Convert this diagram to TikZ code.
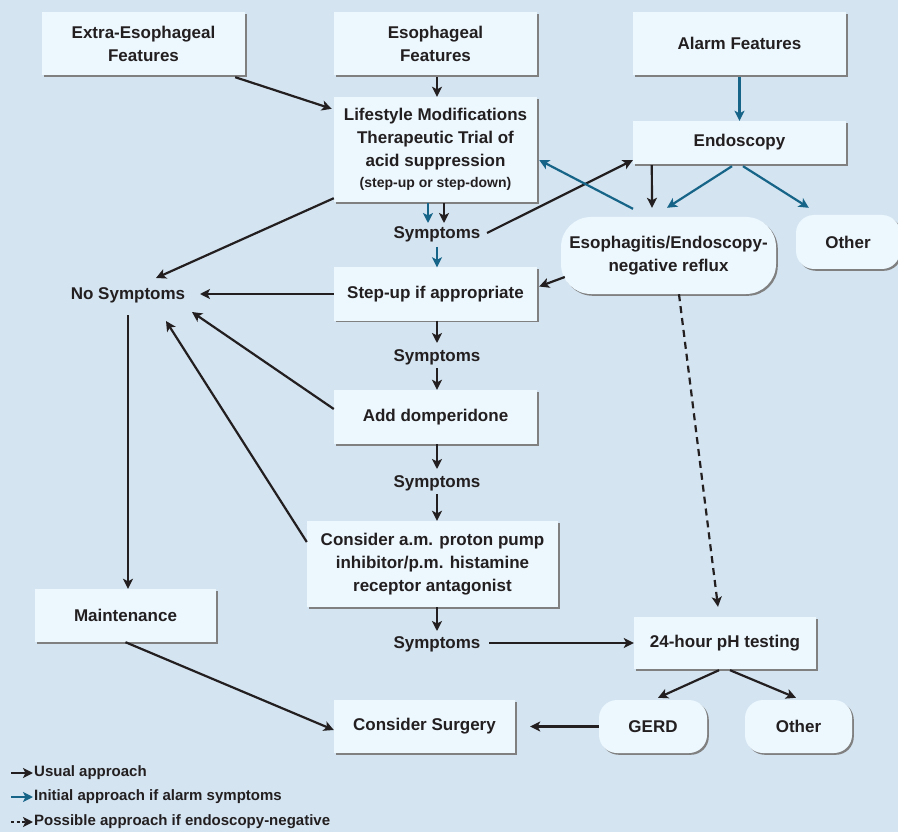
\documentclass[tikz,border=0pt]{standalone}
\usepackage{fontspec}
\setmainfont{Liberation Sans}
\usetikzlibrary{arrows.meta,calc,shadows}

\definecolor{pagebg}{RGB}{212,228,241}
\definecolor{boxfill}{RGB}{236,247,254}
\definecolor{shadowgray}{RGB}{128,128,128}
\definecolor{ink}{RGB}{35,31,32}
\definecolor{alarmblue}{RGB}{22,100,135}

\newcommand\chartfont{\fontsize{17}{23}\selectfont\bfseries}
\newcommand\legendfont{\fontsize{15}{18}\selectfont\bfseries}
\newcommand\smallnote{\fontsize{14}{18}\selectfont}

\tikzset{
  box/.style={fill=boxfill, align=center, inner sep=0pt, font=\chartfont, text=ink,
    drop shadow={shadow xshift=1.8pt, shadow yshift=-1.8pt, fill=shadowgray, opacity=1}},
  roundbox/.style={box, rounded corners=18pt},
  plaintext/.style={inner sep=1pt, font=\chartfont, text=ink},
  legendtext/.style={inner sep=1pt, font=\legendfont, text=ink, anchor=west},
  usual/.style={draw=ink, line width=2.2pt, -{Stealth[length=10pt,width=10pt,inset=2.5pt]}},
  alarmpath/.style={usual, draw=alarmblue},
  possible/.style={usual, dash pattern=on 7pt off 5pt}
}

\begin{document}
\begin{tikzpicture}[x=1pt,y=1pt]
\useasboundingbox (0,0) rectangle (898,-832);
\fill[pagebg] (0,0) rectangle (898,-832);

\node[box, minimum width=203pt, minimum height=63pt] (extra) at (143.5,-43.5) {Extra-Esophageal\\Features};
\node[box, minimum width=203pt, minimum height=63pt] (esoph) at (435.5,-43.5) {Esophageal\\Features};
\node[box, minimum width=213pt, minimum height=63pt] (alarm) at (739.5,-43.5) {Alarm Features};
\node[box, minimum width=203pt, minimum height=105pt] (life) at (435.5,-149.5) {Lifestyle Modifications\\Therapeutic Trial of\\acid suppression\\[-2pt]{\smallnote(step-up or step-down)}};
\node[box, minimum width=213pt, minimum height=43pt] (endo) at (739.5,-142.5) {Endoscopy};
\node[roundbox, rounded corners=30pt, minimum width=215pt, minimum height=77pt] (reflux) at (668.5,-255.5) {Esophagitis/Endoscopy-\\negative reflux};
\node[roundbox, minimum width=104pt, minimum height=54pt] (otherA) at (848,-242) {Other};
\node[plaintext] (sym1) at (437,-234) {Symptoms};
\node[box, minimum width=203pt, minimum height=53pt] (stepup) at (435.5,-294) {Step-up if appropriate};
\node[plaintext] (nosym) at (128,-295) {No Symptoms};
\node[plaintext] (sym2) at (437,-357) {Symptoms};
\node[box, minimum width=203pt, minimum height=54pt] (dompe) at (435.5,-417) {Add domperidone};
\node[plaintext] (sym3) at (437,-483) {Symptoms};
\node[box, minimum width=251pt, minimum height=86pt] (consider) at (432.5,-564) {Consider a.m. proton pump\\inhibitor/p.m. histamine\\receptor antagonist};
\node[plaintext] (sym4) at (437,-644) {Symptoms};
\node[box, minimum width=181pt, minimum height=53pt] (maint) at (125.5,-615.5) {Maintenance};
\node[box, minimum width=181pt, minimum height=53pt] (surgery) at (424.5,-726.5) {Consider Surgery};
\node[box, minimum width=182pt, minimum height=52pt] (ph) at (725,-643) {24-hour pH testing};
\node[roundbox, minimum width=108pt, minimum height=53pt] (gerd) at (653,-726.5) {GERD};
\node[roundbox, minimum width=107pt, minimum height=53pt] (otherB) at (798.5,-726.5) {Other};

% top part
\draw[usual] ($(extra.south east)+(-10,-2)$) -- ($(life.north west)+(-2,-12)$);
\draw[usual] ($(esoph.south)+(1.5,-2)$) -- ($(life.north)+(1.5,0)$);
\draw[alarmpath] ($(alarm.south)+(0,-2)$) -- (endo.north);
\draw[usual] ($(life.south west)+(0,4)$) -- ($(nosym)+(28,17)$);
\draw[alarmpath] ($(life.south)+(-7.5,-1)$) -- ($(sym1)+(-9,11)$);
\draw[usual] ($(life.south)+(8.5,-1)$) -- ($(sym1)+(7,11)$);
\draw[alarmpath] ($(sym1)+(0,-13)$) -- (sym1 |- stepup.north);
\draw[usual] ($(sym1)+(50,1)$) -- ($(endo.south west)+(0,4)$);
\draw[alarmpath] ($(reflux.north)+(-35.5,8)$) -- ($(life.east)+(2,-10.5)$);
\draw[usual] ($(endo.south west)+(19,-1)$) -- ($(reflux.north)+(-16.5,9)$);
\draw[alarmpath] ($(endo.south)+(-7.5,-2)$) -- ($(reflux.north)+(-1.5,9)$);
\draw[alarmpath] ($(endo.south)+(3.5,-2)$) -- ($(otherA.north west)+(13,7)$);
\draw[usual] ($(reflux.west)+(4,-21.5)$) -- ($(stepup.east)+(2,7.5)$);
\draw[possible] ($(reflux.south)+(10.5,0)$) -- ($(ph.north)+(-7,10)$);

% back to no symptoms
\draw[usual] (stepup.west) -- ($(nosym)+(72,1)$);
\draw[usual] ($(dompe.west)+(0,8)$) -- ($(nosym)+(64,-17)$);
\draw[usual] ($(consider.west)+(0,22)$) -- ($(nosym)+(38,-26)$);
\draw[usual] ($(nosym)+(0,-20)$) -- (maint.north -| nosym);

% step-up chain
\draw[usual] (sym2 |- stepup.south) -- ($(sym2)+(0,14)$);
\draw[usual] ($(sym2)+(0,-11)$) -- (sym2 |- dompe.north);
\draw[usual] (sym3 |- dompe.south) -- ($(sym3)+(0,14)$);
\draw[usual] ($(sym3)+(0,-11)$) -- (sym3 |- consider.north);
\draw[usual] (sym4 |- consider.south) -- ($(sym4)+(0,13)$);
\draw[usual] ($(sym4)+(52,1)$) -- (ph.west);
\draw[usual] (maint.south) -- ($(surgery.west)+(0,-3.5)$);
\draw[usual] (gerd.west) -- ($(surgery.east)+(15,0)$);
\draw[usual] ($(ph.south)+(-6,-1)$) -- ($(gerd.north)+(5,2)$);
\draw[usual] ($(ph.south)+(5,-1)$) -- ($(otherB.north)+(-2.5,2)$);

% legend
\node[legendtext] (legusual) at (33,-773) {Usual approach};
\node[legendtext] (legalarm) at (33,-797) {Initial approach if alarm symptoms};
\node[legendtext] (legposs) at (33,-822) {Possible approach if endoscopy-negative};
\coordinate (usualstart) at (11,-773);
\coordinate (alarmstart) at (11,-797);
\coordinate (possstart) at (11,-822);
\draw[usual, line width=1.8pt] (usualstart) -- (legusual.west);
\draw[alarmpath, line width=1.8pt] (alarmstart) -- (legalarm.west);
\draw[usual, line width=1.8pt, dash pattern=on 3pt off 2.5pt] (possstart) -- (legposs.west);
\end{tikzpicture}
\end{document}
